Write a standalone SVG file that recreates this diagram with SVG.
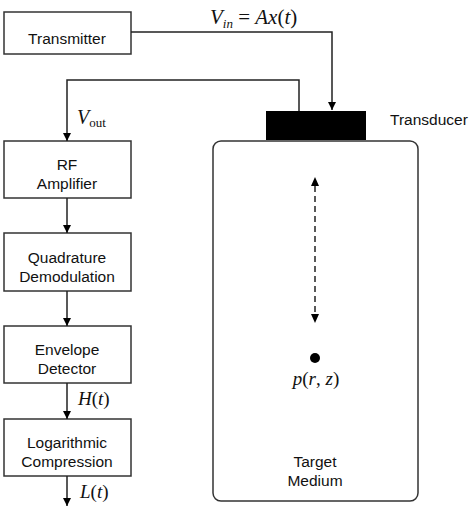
<svg xmlns="http://www.w3.org/2000/svg" width="474" height="509" viewBox="0 0 474 509">
<defs>
<marker id="ah" viewBox="0 0 10 10" refX="10" refY="5" markerWidth="8" markerHeight="8" markerUnits="userSpaceOnUse" orient="auto">
<path d="M0,0 L10,5 L0,10 z" fill="#000"/>
</marker>
<style>
.box{fill:#fff;stroke:#333;stroke-width:1.5}
.lbl{font-family:"Liberation Sans",Arial,sans-serif;font-size:15.5px;fill:#111;text-anchor:middle}
.math{font-family:"Liberation Serif","Times New Roman",serif;font-style:italic;fill:#111}
.up{font-style:normal}
.conn{fill:none;stroke:#222;stroke-width:1.5}
</style>
</defs>
<rect width="474" height="509" fill="#fff"/>
<g id="transmitter"><rect class="box" x="4" y="12" width="127" height="42"/><text class="lbl" x="67" y="44">Transmitter</text></g>
<g id="rf-amplifier"><rect class="box" x="4" y="141" width="127" height="57"/><text class="lbl" x="67" y="170">RF</text><text class="lbl" x="67" y="189">Amplifier</text></g>
<g id="quadrature"><rect class="box" x="4" y="233" width="127" height="58"/><text class="lbl" x="67" y="263">Quadrature</text><text class="lbl" x="67" y="282">Demodulation</text></g>
<g id="envelope"><rect class="box" x="4" y="326" width="127" height="57"/><text class="lbl" x="67" y="355">Envelope</text><text class="lbl" x="67" y="374">Detector</text></g>
<g id="logarithmic"><rect class="box" x="4" y="419" width="127" height="57"/><text class="lbl" x="67" y="448">Logarithmic</text><text class="lbl" x="67" y="467">Compression</text></g>
<g id="transducer"><rect x="266" y="111" width="100" height="29" fill="#000"/><text class="lbl" x="390" y="125" style="text-anchor:start">Transducer</text></g>
<g id="target-medium"><rect class="box" x="213" y="141" width="205" height="360" rx="8" ry="8"/><text class="lbl" x="315" y="467">Target</text><text class="lbl" x="315" y="486">Medium</text>
<circle cx="315" cy="358" r="5" fill="#000"/>
<text class="math" x="316" y="385" font-size="19" text-anchor="middle">p<tspan class="up">(</tspan>r<tspan class="up">, </tspan>z<tspan class="up">)</tspan></text>
<line x1="315" y1="186" x2="315" y2="314" stroke="#222" stroke-width="1.5" stroke-dasharray="6,4"/>
<path d="M311,186 L315,177 L319,186 z M311,314 L315,323 L319,314 z" fill="#000"/>
</g>
<g id="connectors">
<polyline class="conn" points="131,32 332,32 332,110" marker-end="url(#ah)"/>
<polyline class="conn" points="299,111 299,80 67,80 67,141" marker-end="url(#ah)"/>
<line class="conn" x1="67" y1="198" x2="67" y2="233" marker-end="url(#ah)"/>
<line class="conn" x1="67" y1="291" x2="67" y2="326" marker-end="url(#ah)"/>
<line class="conn" x1="67" y1="383" x2="67" y2="419" marker-end="url(#ah)"/>
<line class="conn" x1="67" y1="476" x2="67" y2="506" marker-end="url(#ah)"/>
</g>
<g id="labels">
<text class="math" x="210" y="24" font-size="21">V<tspan font-size="13" dy="4">in</tspan><tspan class="up" dy="-4"> = </tspan>Ax<tspan class="up">(</tspan>t<tspan class="up">)</tspan></text>
<text class="math" x="77" y="124" font-size="20">V<tspan class="up" font-size="13" dy="3">out</tspan></text>
<text class="math" x="78" y="405" font-size="19">H<tspan class="up">(</tspan>t<tspan class="up">)</tspan></text>
<text class="math" x="80" y="498" font-size="19">L<tspan class="up">(</tspan>t<tspan class="up">)</tspan></text>
</g>
</svg>
